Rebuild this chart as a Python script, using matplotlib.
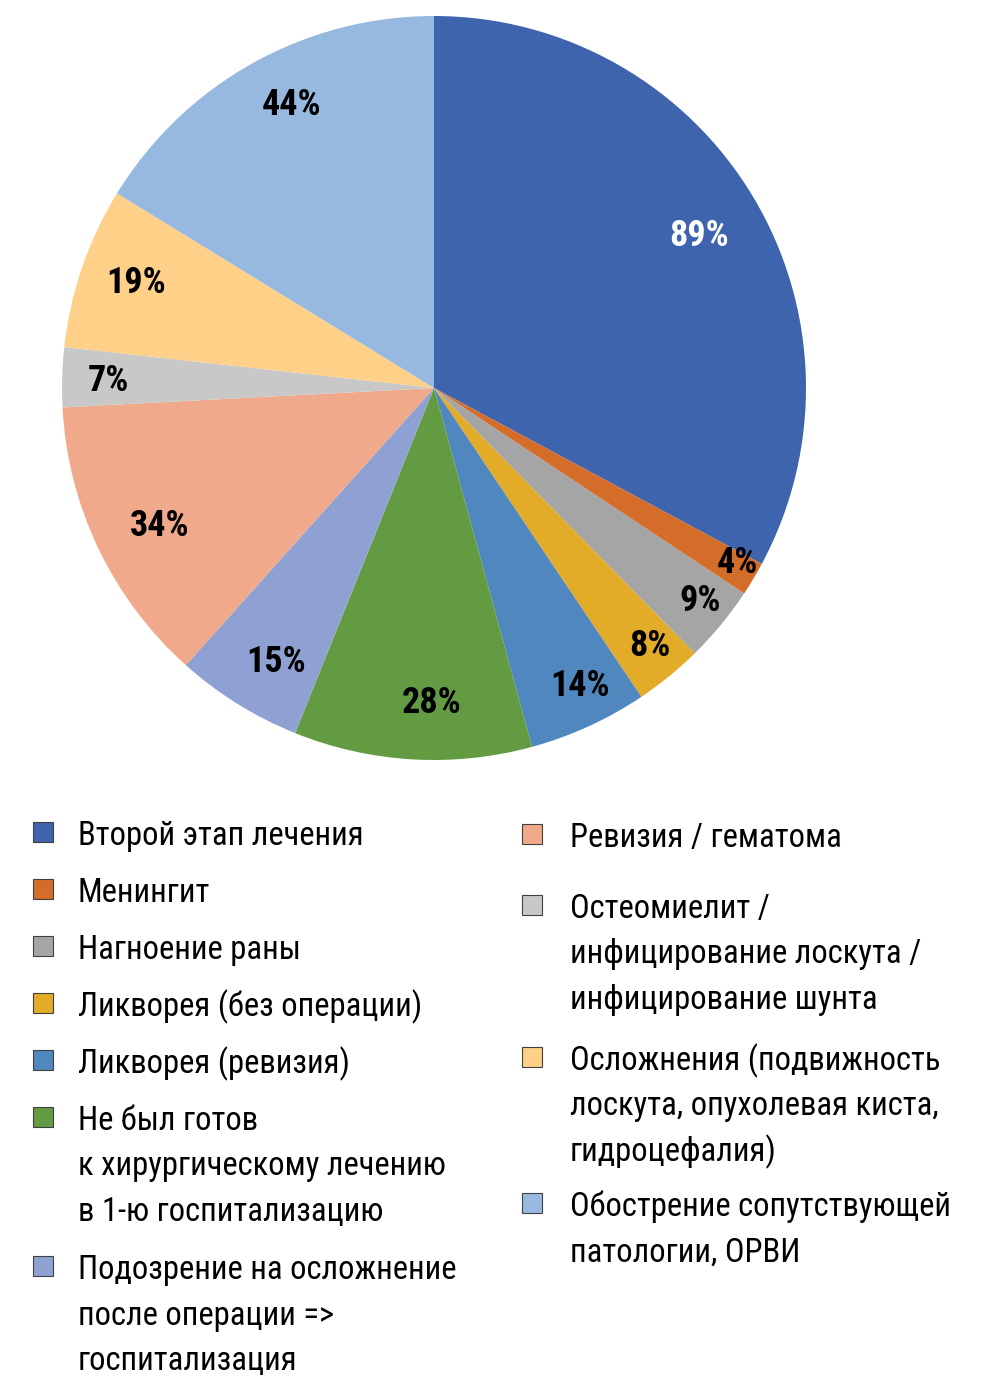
import matplotlib
matplotlib.use('Agg')
import numpy as np
from matplotlib import pyplot as plt
from matplotlib import transforms
from matplotlib.patches import Rectangle

# slice values (labels show the raw number with %)
values = [89, 4, 9, 8, 14, 28, 15, 34, 7, 19, 44]
colors = ['#3F64AE', '#D46C2A', '#A5A5A5', '#E3AC28', '#4F87BE', '#629B42',
          '#8FA1D3', '#F0A98A', '#C8C8C8', '#FED088', '#98B9DF']
legend_left = [
    'Второй этап лечения',
    'Менингит',
    'Нагноение раны',
    'Ликворея (без операции)',
    'Ликворея (ревизия)',
    'Не был готов\nк хирургическому лечению\nв 1-ю госпитализацию',
    'Подозрение на осложнение\nпосле операции =>\nгоспитализация',
]
legend_right = [
    'Ревизия / гематома',
    'Остеомиелит /\nинфицирование лоскута /\nинфицирование шунта',
    'Осложнения (подвижность\nлоскута, опухолевая киста,\nгидроцефалия)',
    'Обострение сопутствующей\nпатологии, ОРВИ',
]

plt.rcParams['font.family'] = ['Roboto Condensed', 'PT Sans Narrow', 'DejaVu Sans']

W, H = 981, 1394
fig = plt.figure(figsize=(W / 100, H / 100), dpi=100)

# pie axes: centre (434, 388) px, radius 372 px
cx, cy, R = 434, 388, 372
ax = fig.add_axes([(cx - R) / W, 1 - (cy + R) / H, 2 * R / W, 2 * R / H])
wedges, _ = ax.pie(values, colors=colors, startangle=90, counterclock=False,
                   radius=1, wedgeprops=dict(linewidth=0))
ax.set_xlim(-1, 1)
ax.set_ylim(-1, 1)
ax.set_aspect('equal')
ax.axis('off')

# label placement per slice: distance (fraction of radius) and angle nudge (deg)
label_r = [0.825, 0.937, 0.911, 0.898, 0.885, 0.839, 0.844, 0.822, 0.876, 0.852, 0.858]
label_dang = [-0.6, 1.3, 1.2, 1.1, 1.7, 2.8, 1.7, 0.6, -0.1, -1.0, -2.8]
lab_tr = transforms.offset_copy(ax.transData, fig=fig, x=0, y=-3, units='dots')
for w, v, r, da in zip(wedges, values, label_r, label_dang):
    ang = np.deg2rad((w.theta1 + w.theta2) / 2 + da)
    col = 'white' if w.get_facecolor()[0] < 0.3 else 'black'
    ax.text(r * np.cos(ang), r * np.sin(ang), f'{v}%', ha='center', va='center',
            fontsize=26, fontweight='bold', color=col, transform=lab_tr)

# legend drawn manually
line_h = 45.5
left_rows = [832, 889, 946, 1003, 1060, 1117, 1266]
right_rows = [834, 905, 1057, 1203]


def draw_legend(labels, rows, sq_x, txt_x, cols):
    for lab, y0, c in zip(labels, rows, cols):
        fig.patches.append(Rectangle((sq_x / W, 1 - (y0 + 10) / H), 20 / W, 20 / H,
                                     transform=fig.transFigure, facecolor=c,
                                     edgecolor='#404040', linewidth=0.8))
        for i, line in enumerate(lab.split('\n')):
            fig.text(txt_x / W, 1 - (y0 + 13 + i * line_h) / H, line,
                     ha='left', va='baseline', fontsize=23.5, color='black')


draw_legend(legend_left, left_rows, 33, 78, colors[:7])
draw_legend(legend_right, right_rows, 522, 570, colors[7:])

fig.savefig('out.png', dpi=100)
